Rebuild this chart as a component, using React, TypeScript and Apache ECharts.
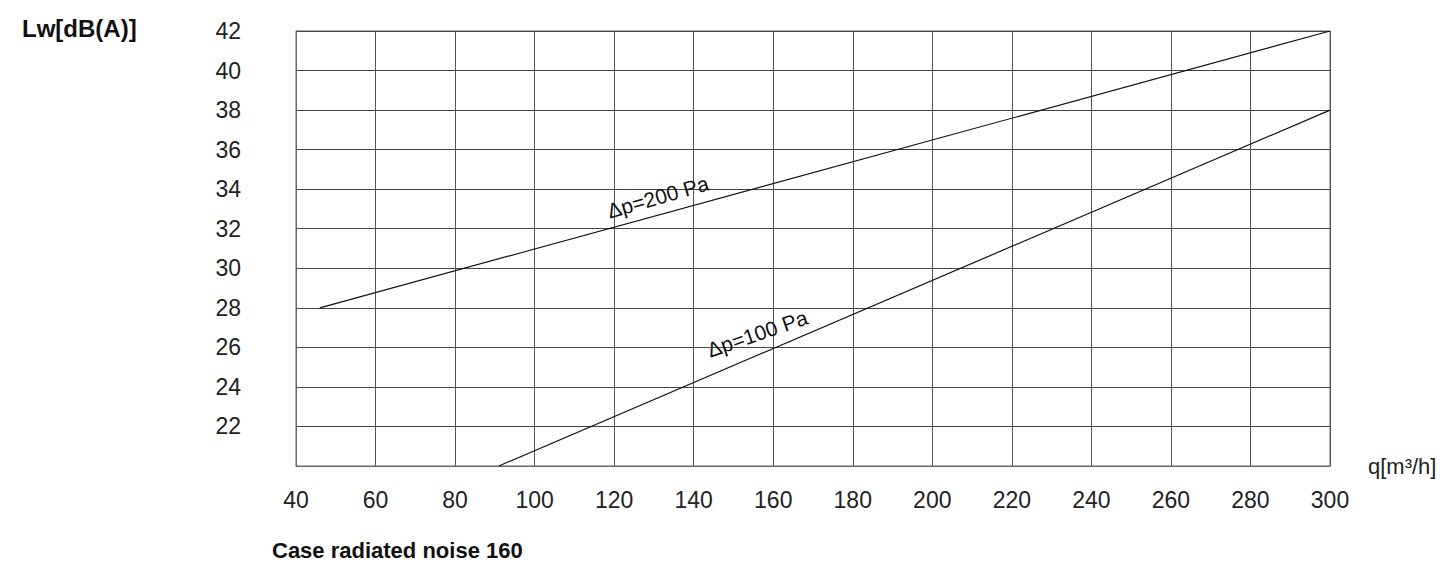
import React, { useEffect, useRef } from "react";
import * as echarts from "echarts";

const xMin = 40;
const xMax = 300;
const xStep = 20;
const yMin = 20;
const yMax = 42;
const yStep = 2;
const hiddenYLabels = [20];

const line200 = [
  [46, 28],
  [300, 42],
];
const line100 = [
  [91, 20],
  [300, 38],
];

const label200 = { text: "Δp=200 Pa", at: [131, 33.6], angle: 16 };
const label100 = { text: "Δp=100 Pa", at: [156, 26.7], angle: 19 };

const yTitle = "Lw[dB(A)]";
const xTitle = "q[m³/h]";
const caption = "Case radiated noise 160";

const FONT = "Liberation Sans, Arial, Helvetica, sans-serif";

export default function App() {
  const ref = useRef<HTMLDivElement>(null);
  useEffect(() => {
    if (!ref.current) return;
    const chart = echarts.init(ref.current, undefined, { renderer: "svg" });
    const mkLabel = (l: { text: string; at: number[]; angle: number }) => ({
      symbol: "circle",
      symbolSize: 0,
      silent: true,
      label: {
        show: true,
        position: "inside",
        formatter: l.text,
        rotate: l.angle,
        color: "#111",
        fontFamily: FONT,
        fontSize: 21,
      },
      data: [{ coord: l.at, value: l.text }],
    });
    chart.setOption({
      animation: false,
      backgroundColor: "#fff",
      textStyle: { fontFamily: FONT },
      title: [
        {
          text: yTitle,
          left: 17,
          top: 11,
          textStyle: { fontFamily: FONT, fontSize: 24, fontWeight: "bold", color: "#111" },
        },
        {
          text: caption,
          left: 267,
          top: 534,
          textStyle: { fontFamily: FONT, fontSize: 22, fontWeight: "bold", color: "#111" },
        },
      ],
      grid: {
        left: 296,
        top: 31,
        width: 1034,
        height: 435,
        show: true,
        borderColor: "#666",
        borderWidth: 1,
        backgroundColor: "transparent",
      },
      xAxis: {
        type: "value",
        min: xMin,
        max: xMax,
        interval: xStep,
        name: xTitle,
        nameLocation: "end",
        nameGap: 38,
        nameTextStyle: {
          fontFamily: FONT,
          fontSize: 22,
          color: "#222",
          align: "left",
          verticalAlign: "middle",
          padding: [0, 0, 36, 0],
        },
        axisLine: { show: true, lineStyle: { color: "#666", width: 1 } },
        axisTick: { show: false },
        splitLine: { show: true, lineStyle: { color: "#555", width: 1 } },
        axisLabel: {
          margin: 22,
          fontFamily: FONT,
          fontSize: 23,
          color: "#222",
          showMinLabel: true,
          showMaxLabel: true,
        },
      },
      yAxis: {
        type: "value",
        min: yMin,
        max: yMax,
        interval: yStep,
        axisLine: { show: true, lineStyle: { color: "#666", width: 1 } },
        axisTick: { show: false },
        splitLine: { show: true, lineStyle: { color: "#444", width: 1 } },
        axisLabel: {
          margin: 55,
          fontFamily: FONT,
          fontSize: 23,
          color: "#222",
          formatter: (v: number) => (hiddenYLabels.includes(v) ? "" : String(v)),
        },
      },
      series: [
        {
          type: "line",
          data: line200,
          symbol: "none",
          silent: true,
          lineStyle: { color: "#111", width: 1.2 },
          markPoint: mkLabel(label200),
        },
        {
          type: "line",
          data: line100,
          symbol: "none",
          silent: true,
          lineStyle: { color: "#111", width: 1.2 },
          markPoint: mkLabel(label100),
        },
      ],
    });
    return () => chart.dispose();
  }, []);
  return (
    <div
      ref={ref}
      style={{ position: "fixed", left: 0, top: 0, width: 1442, height: 564 }}
    />
  );
}
